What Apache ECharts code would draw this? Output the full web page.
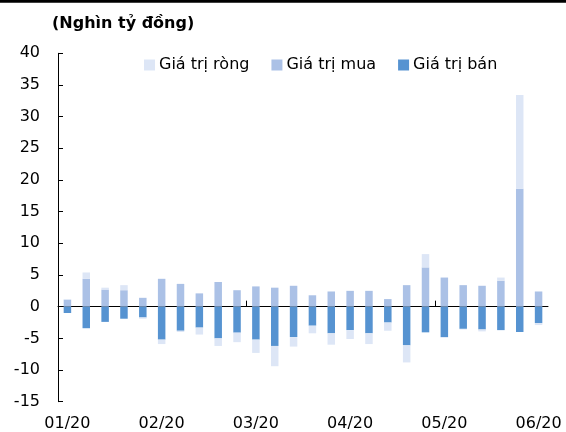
<!DOCTYPE html>
<html>
<head>
<meta charset="utf-8">
<script src="https://cdn.jsdelivr.net/npm/echarts@6/dist/echarts.min.js"></script>
<style>
  html, body { margin: 0; padding: 0; background: #fff; }
  #chart { width: 566px; height: 432px; }
</style>
</head>
<body>
<div id="chart"></div>
<script>
// Category labels (26 weekly periods; month labels every 5th)
var categories = ['01/20','','','','','02/20','','','','','03/20','','','','','04/20','','','','','05/20','','','','','06/20'];
// Values (Nghìn tỷ đồng)
var buyValues  = [1.1, 4.4, 2.7, 2.6, 1.4, 4.4, 3.6, 2.1, 3.9, 2.6, 3.2, 3.0, 3.3, 1.8, 2.4, 2.5, 2.5, 1.2, 3.4, 6.2, 4.6, 3.4, 3.3, 4.1, 18.6, 2.4];
var sellValues = [-1.0, -3.4, -2.4, -1.9, -1.7, -5.2, -3.8, -3.3, -5.0, -4.1, -5.2, -6.2, -4.8, -3.0, -4.2, -3.7, -4.2, -2.5, -6.1, -4.05, -4.8, -3.5, -3.6, -3.7, -4.0, -2.6];
var netValues  = [0.1, 1.0, 0.3, 0.8, -0.2, -0.7, -0.2, -1.1, -1.2, -1.5, -2.1, -3.2, -1.5, -1.2, -1.8, -1.4, -1.7, -1.3, -2.7, 2.1, -0.1, -0.1, -0.3, 0.5, 14.8, -0.3];
var seriesNames = ['Giá trị ròng', 'Giá trị mua', 'Giá trị bán'];
var yTicks = { min: -15, max: 40, interval: 5 };
var zeroAxisTicks = [10, 20]; // tick marks on the zero line (category boundaries)
var unitTitle = '(Nghìn tỷ đồng)';

var FONT = 'DejaVu Sans';
var chart = echarts.init(document.getElementById('chart'), null, { renderer: 'canvas' });
chart.setOption({
  animation: false,
  backgroundColor: '#ffffff',
  textStyle: { fontFamily: FONT },
  graphic: {
    elements: [
      { type: 'rect', z: 1000, silent: true,
        shape: { x: 0, y: 0, width: 566, height: 2.7 }, style: { fill: '#000000', stroke: null } },
      { type: 'text', z: 100, x: 52, y: 24, style: { text: unitTitle, font: 'bold 16px "DejaVu Sans"', fill: '#000', verticalAlign: 'middle' } }
    ]
  },
  legend: {
    data: seriesNames,
    left: 144, top: 57, padding: 0,
    itemWidth: 11, itemHeight: 11, itemGap: 22,
    icon: 'rect',
    textStyle: { fontFamily: FONT, fontSize: 16, color: '#000', padding: [0, 0, 0, -1] }
  },
  grid: { left: 58, right: 18, top: 53.3, bottom: 30.3, containLabel: false, outerBoundsMode: 'none' },
  xAxis: [{
    type: 'category',
    data: categories,
    boundaryGap: true,
    position: 'bottom',
    axisLine: { show: false, onZero: false },
    axisTick: { show: false },
    axisLabel: { interval: 0, margin: 14, fontFamily: FONT, fontSize: 16, color: '#000' },
    splitLine: { show: false }
  }, {
    type: 'value',
    min: 0, max: categories.length,
    position: 'bottom',
    axisLine: { show: true, onZero: true, lineStyle: { color: '#000', width: 1 } },
    axisTick: { show: true, inside: true, length: 6, customValues: zeroAxisTicks, lineStyle: { color: '#000' } },
    axisLabel: { show: false },
    splitLine: { show: false }
  }],
  yAxis: {
    type: 'value',
    min: yTicks.min, max: yTicks.max, interval: yTicks.interval,
    axisLine: { show: true, lineStyle: { color: '#000', width: 1 } },
    axisTick: { show: true, inside: true, length: 5, lineStyle: { color: '#000' } },
    axisLabel: { margin: 18, fontFamily: FONT, fontSize: 16, color: '#000' },
    splitLine: { show: false }
  },
  series: [
    { name: seriesNames[1], type: 'bar', stack: 'a', data: buyValues, barWidth: 7.5, xAxisIndex: 0,
      itemStyle: { color: '#abc1e6' } },
    { name: seriesNames[2], type: 'bar', stack: 'a', data: sellValues, barWidth: 7.5, xAxisIndex: 0,
      itemStyle: { color: '#5693d1' } },
    { name: seriesNames[0], type: 'bar', stack: 'a', data: netValues, barWidth: 7.5, xAxisIndex: 0,
      itemStyle: { color: '#dde6f6' } }
  ]
});
</script>
</body>
</html>
